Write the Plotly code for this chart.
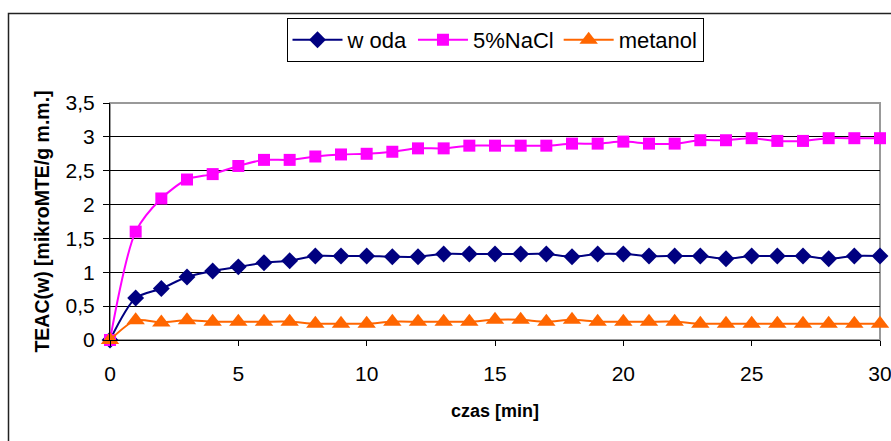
import plotly.graph_objects as go

czas = list(range(0, 31))
woda = [0, 0.62, 0.76, 0.93, 1.02, 1.08, 1.14, 1.17, 1.24, 1.24, 1.24,
        1.23, 1.23, 1.27, 1.27, 1.27, 1.27, 1.27, 1.23, 1.27, 1.27,
        1.24, 1.24, 1.24, 1.20, 1.24, 1.24, 1.24, 1.20, 1.24, 1.24]
nacl = [0, 1.60, 2.09, 2.37, 2.45, 2.57, 2.66, 2.66, 2.71, 2.74, 2.75,
        2.78, 2.83, 2.83, 2.87, 2.87, 2.87, 2.87, 2.90, 2.90, 2.93,
        2.90, 2.90, 2.95, 2.95, 2.98, 2.94, 2.94, 2.98, 2.98, 2.98]
metanol = [0, 0.29, 0.26, 0.29, 0.27, 0.27, 0.27, 0.27, 0.24, 0.24, 0.24,
           0.27, 0.27, 0.27, 0.27, 0.30, 0.30, 0.27, 0.30, 0.27, 0.27,
           0.27, 0.27, 0.24, 0.24, 0.24, 0.24, 0.24, 0.24, 0.24, 0.24]

names = ["w oda", "5%NaCl", "metanol"]
series = [woda, nacl, metanol]
colors = ["#000080", "#FF00FF", "#FF6600"]
symbols = ["diamond", "square", "triangle-up"]
sizes = [13, 12, 16]

FONT = "Liberation Sans, Arial, sans-serif"

fig = go.Figure()
for n, s, c, sym, sz in zip(names, series, colors, symbols, sizes):
    fig.add_trace(go.Scatter(
        x=czas, y=s, name=n, mode="lines+markers",
        line=dict(color=c, width=2, shape="spline", smoothing=0.8),
        marker=dict(symbol=sym, size=sz, color=c, line=dict(width=0)),
        cliponaxis=False,
    ))

L, R, T, B = 110, 11, 103, 101
W, H = 891, 441
pw, ph = W - L - R, H - T - B

def px(xp):
    return (xp - L) / pw

def py(yp):
    return (H - B - yp) / ph

fig.update_layout(
    width=W, height=H,
    margin=dict(l=L, r=R, t=T, b=B, pad=0, autoexpand=False),
    paper_bgcolor="white", plot_bgcolor="white",
    separators=", ",
    font=dict(family=FONT, color="black"),
    showlegend=True,
    legend=dict(
        orientation="h", x=0.5, xanchor="center", y=py(18), yanchor="top",
        bordercolor="black", borderwidth=1, bgcolor="white",
        font=dict(size=22, family=FONT), itemwidth=50,
        tracegroupgap=0,
    ),
    xaxis=dict(
        range=[0, 30], dtick=5, tick0=0, automargin=False,
        ticklabeloverflow="allow",
        showgrid=False, zeroline=False,
        showline=True, linecolor="black", linewidth=1,
        ticks="outside", ticklen=5, tickcolor="black",
        ticklabelstandoff=10,
        tickfont=dict(size=21, family=FONT),
        title=dict(text="<b>czas [min]</b>", font=dict(size=18, family=FONT), standoff=20),
    ),
    yaxis=dict(
        range=[0, 3.5], dtick=0.5, tick0=0, automargin=False,
        ticklabeloverflow="allow",
        showgrid=True, gridcolor="black", gridwidth=1,
        zeroline=False,
        showline=True, linecolor="black", linewidth=1,
        ticks="outside", ticklen=6, tickcolor="black",
        ticklabelstandoff=4,
        tickfont=dict(size=21, family=FONT),
        title=dict(text="<b>TEAC(w) [mikroMTE/g m.m.]</b>", font=dict(size=19.5, family=FONT), standoff=10),
    ),
    shapes=[
        dict(type="rect", xref="paper", yref="paper", x0=0, x1=1, y0=0, y1=1,
             line=dict(color="#999999", width=2), layer="between"),
        dict(type="rect", xref="paper", yref="paper",
             x0=px(8.5), x1=px(897), y0=py(447), y1=py(13.5),
             line=dict(color="#222222", width=1.5), layer="above"),
    ],
)

fig.write_html("out.html")
